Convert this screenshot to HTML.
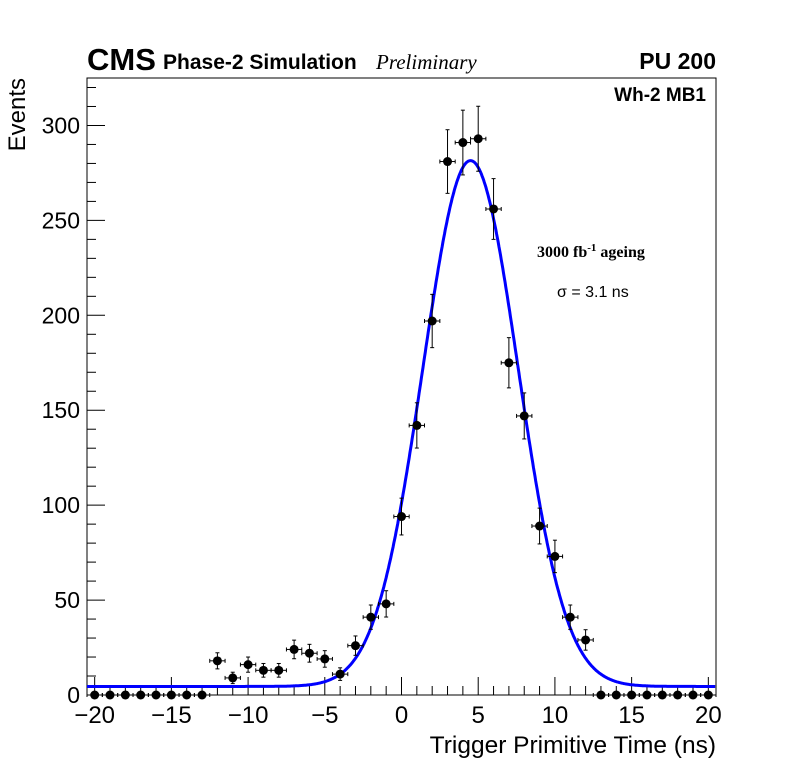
<!DOCTYPE html>
<html><head><meta charset="utf-8"><style>
body{margin:0;background:#fff;}
svg{font-family:"Liberation Sans",sans-serif;}
</style></head><body>
<svg id="chart" width="796" height="772">
<rect x="0" y="0" width="796" height="772" fill="#fff"/>
<rect x="87" y="78" width="629" height="617" fill="none" stroke="#000" stroke-width="1"/>
<g id="axes"></g>
<g id="fit"></g>
<g id="points"></g>
<text x="87" y="70" font-size="31" font-weight="bold">CMS</text>
<text x="163" y="69" font-size="21" font-weight="bold">Phase-2 Simulation</text>
<text x="376" y="69" font-size="21" font-style="italic" font-family="Liberation Serif,serif">Preliminary</text>
<text x="716" y="69" font-size="23" font-weight="bold" text-anchor="end">PU 200</text>
<text x="706" y="101" font-size="19" font-weight="bold" text-anchor="end">Wh-2 MB1</text>
<text x="537" y="257" font-size="16" font-weight="bold" font-family="Liberation Serif,serif">3000 fb<tspan dy="-6" font-size="11">-1</tspan><tspan dy="6"> ageing</tspan></text>
<text x="557" y="297" font-size="16">σ = 3.1 ns</text>
<text x="716" y="753" font-size="24.5" text-anchor="end">Trigger Primitive Time (ns)</text>
<text x="25" y="78" font-size="24" text-anchor="end" transform="rotate(-90 25 78)">Events</text>
</svg>
<script>
const xCenters=[-20,-19,-18,-17,-16,-15,-14,-13,-12,-11,-10,-9,-8,-7,-6,-5,-4,-3,-2,-1,0,1,2,3,4,5,6,7,8,9,10,11,12,13,14,15,16,17,18,19,20];
const counts=[0,0,0,0,0,0,0,0,18,9,16,13,13,24,22,19,11,26,41,48,94,142,197,281,291,293,256,175,147,89,73,41,29,0,0,0,0,0,0,0,0];
const xTicks=[-20,-15,-10,-5,0,5,10,15,20];
const yTicks=[0,50,100,150,200,250,300];
const fitConst=4.5, fitAmp=277, fitMean=4.5, fitSigma=3.1;
const NS="http://www.w3.org/2000/svg";
const X0=87,X1=716,Y0=695,Y1=78,xmin=-20.5,xmax=20.5,ymin=0,ymax=325;
const sx=v=>X0+(v-xmin)/(xmax-xmin)*(X1-X0);
const sy=v=>Y0-(v-ymin)/(ymax-ymin)*(Y0-Y1);
function mk(tag,attrs,parent){const e=document.createElementNS(NS,tag);for(const k in attrs)e.setAttribute(k,attrs[k]);parent.appendChild(e);return e;}
const ax=document.getElementById('axes');
for(let v=-20;v<=20;v++){const big=v%5===0;const l=mk('line',{x1:sx(v),x2:sx(v),y1:Y0,y2:Y0-(big?18:9),stroke:'#000'},ax);

}
xTicks.forEach(v=>{const t=mk('text',{x:sx(v),y:723,'font-size':24,'text-anchor':'middle'},ax);t.textContent=(v<0?'\u2212'+(-v):v);

});
for(let v=0;v<=320;v+=10){const big=v%50===0;const l=mk('line',{x1:X0,x2:X0+(big?18:9),y1:sy(v),y2:sy(v),stroke:'#000'},ax);

}
yTicks.forEach(v=>{const t=mk('text',{x:80,y:sy(v)+8,'font-size':23,'text-anchor':'end'},ax);t.textContent=v;

});
const fg=document.getElementById('fit');let d='';
for(let x=xmin;x<=xmax;x+=0.05){const y=fitConst+fitAmp*Math.exp(-0.5*((x-fitMean)/fitSigma)**2);d+=(d?'L':'M')+sx(x).toFixed(1)+','+sy(y).toFixed(1);}
const fp=mk('path',{d:d,fill:'none',stroke:'#0000ff','stroke-width':3},fg);


const pg=document.getElementById('points');
xCenters.forEach((x,i)=>{const c=counts[i];const g=mk('g',{},pg);


const cx=sx(x),cy=sy(c);
mk('line',{x1:sx(x-0.5),x2:sx(x+0.5),y1:cy,y2:cy,stroke:'#000'},g);
if(c>0){const e=Math.sqrt(c);mk('line',{x1:cx,x2:cx,y1:sy(c-e),y2:sy(c+e),stroke:'#000'},g);
mk('line',{x1:cx-2,x2:cx+2,y1:sy(c-e),y2:sy(c-e),stroke:'#000'},g);
mk('line',{x1:cx-2,x2:cx+2,y1:sy(c+e),y2:sy(c+e),stroke:'#000'},g);}
mk('line',{x1:sx(x-0.5),x2:sx(x-0.5),y1:cy-2,y2:cy+2,stroke:'#000'},g);
mk('line',{x1:sx(x+0.5),x2:sx(x+0.5),y1:cy-2,y2:cy+2,stroke:'#000'},g);
mk('circle',{cx:cx,cy:cy,r:4.5,fill:'#000'},g);});
</script>
</body></html>
